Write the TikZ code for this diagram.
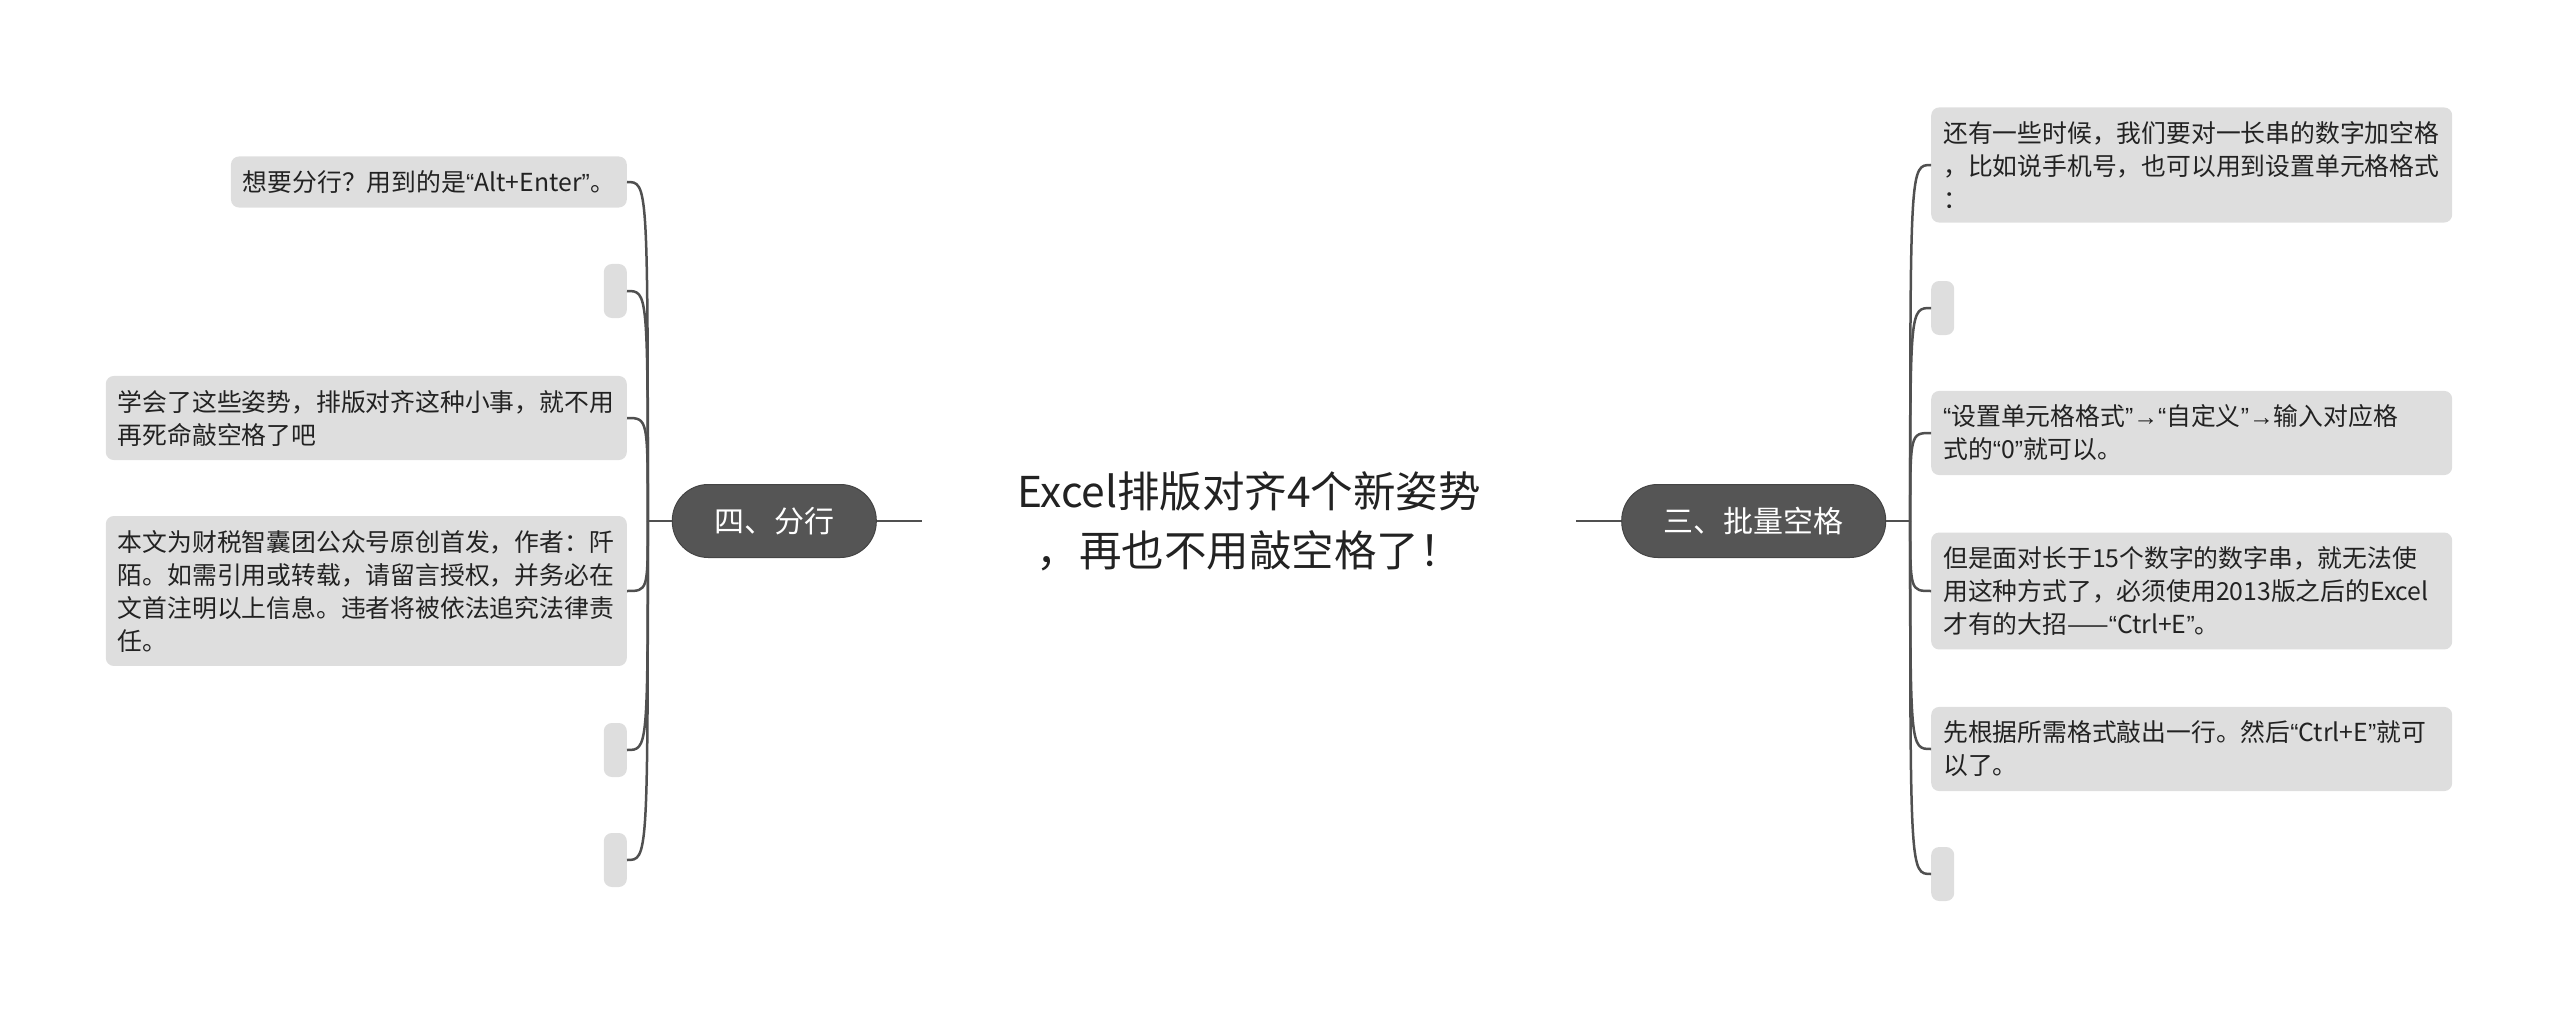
\documentclass[tikz,border=0pt]{standalone}
\usepackage{fontspec}
\newfontfamily\cjk{Noto Sans CJK SC}
\newfontfamily\latin{Liberation Sans}
\newcommand{\qo}{{\latin “}}
\newcommand{\qc}{{\latin ”}}
\newcommand{\ar}{{\latin →}}
\usepackage{tikz}
\usetikzlibrary{positioning}
\definecolor{leafgray}{HTML}{DEDEDE}
\definecolor{branchgray}{HTML}{555555}
\definecolor{linegray}{HTML}{505050}
\definecolor{inkgray}{HTML}{222222}
\tikzstyle{topic} = [align=center, minimum width=654pt, inner sep=0pt, text=inkgray, font=\cjk\fontsize{42.5}{59}\selectfont]
\tikzstyle{branch} = [draw=branchgray!80!black, line width=1pt, fill=branchgray, text=white, rounded corners=36pt, minimum height=73pt, inner xsep=42pt, font=\cjk\fontsize{30}{36}\selectfont]
\tikzstyle{leaf} = [fill=leafgray, rounded corners=8pt, inner xsep=12pt, inner ysep=14pt, align=left, text=inkgray, font=\cjk\fontsize{24.8}{33}\selectfont]
\tikzstyle{stub} = [fill=leafgray, rounded corners=8pt, minimum width=23pt, minimum height=54pt, inner sep=0pt]
\tikzstyle{link} = [draw=linegray, line width=2.5pt]

\begin{document}
\begin{tikzpicture}[x=1pt, y=-1pt, node distance=45pt]
    \useasboundingbox (0,0) rectangle (2560,1011);
    % We start by placing the topic and the two branches
    \node [topic] (topic) at (1249,521) {Excel排版对齐4个新姿势\\，再也不用敲空格了！};
    \node [branch, left=of topic] (fenhang) {四、分行};
    \node [branch, right=of topic] (kongge) {三、批量空格};
    \coordinate [left=24pt of fenhang] (ltrunk);
    \coordinate [right=24pt of kongge] (rtrunk);

    % Left leaves
    \node [leaf, anchor=east] (l1) at (627,182) {想要分行？用到的是\qo Alt+Enter\qc 。};
    \node [stub, anchor=east] (l2) at (627,291) {};
    \node [leaf, anchor=east, text width=497pt] (l3) at (627,418) {学会了这些姿势，排版对齐这种小事，就不用\\再死命敲空格了吧};
    \node [leaf, anchor=east, text width=497pt] (l4) at (627,591) {本文为财税智囊团公众号原创首发，作者：阡\\陌。如需引用或转载，请留言授权，并务必在\\文首注明以上信息。违者将被依法追究法律责\\任。};
    \node [stub, anchor=east] (l5) at (627,750) {};
    \node [stub, anchor=east] (l6) at (627,860) {};

    % Right leaves
    \node [leaf, anchor=west, text width=497pt] (r1) at (1931,165) {还有一些时候，我们要对一长串的数字加空格\\，比如说手机号，也可以用到设置单元格格式\\：};
    \node [stub, anchor=west] (r2) at (1931,308) {};
    \node [leaf, anchor=west, text width=497pt] (r3) at (1931,433) {\qo 设置单元格格式\qc\ar\qo 自定义\qc\ar 输入对应格\\式的\qo 0\qc 就可以。};
    \node [leaf, anchor=west, text width=497pt] (r4) at (1931,591) {但是面对长于15个数字的数字串，就无法使\\用这种方式了，必须使用2013版之后的Excel\\才有的大招——\qo Ctrl+E\qc 。};
    \node [leaf, anchor=west, text width=497pt] (r5) at (1931,749) {先根据所需格式敲出一行。然后\qo Ctrl+E\qc 就可\\以了。};
    \node [stub, anchor=west] (r6) at (1931,874) {};

    % Once the nodes are placed, connecting them is easy.
    \draw [link] (topic) -- (fenhang);
    \draw [link] (topic) -- (kongge);
    \draw [link] (fenhang) -- (ltrunk);
    \draw [link] (kongge) -- (rtrunk);
    \draw [link] (ltrunk) .. controls (ltrunk |- l1) .. (l1.east);
    \draw [link] (ltrunk) .. controls (ltrunk |- l2) .. (l2.east);
    \draw [link] (ltrunk) .. controls (ltrunk |- l3) .. (l3.east);
    \draw [link] (ltrunk) .. controls (ltrunk |- l4) .. (l4.east);
    \draw [link] (ltrunk) .. controls (ltrunk |- l5) .. (l5.east);
    \draw [link] (ltrunk) .. controls (ltrunk |- l6) .. (l6.east);
    \draw [link] (rtrunk) .. controls (rtrunk |- r1) .. (r1.west);
    \draw [link] (rtrunk) .. controls (rtrunk |- r2) .. (r2.west);
    \draw [link] (rtrunk) .. controls (rtrunk |- r3) .. (r3.west);
    \draw [link] (rtrunk) .. controls (rtrunk |- r4) .. (r4.west);
    \draw [link] (rtrunk) .. controls (rtrunk |- r5) .. (r5.west);
    \draw [link] (rtrunk) .. controls (rtrunk |- r6) .. (r6.west);
\end{tikzpicture}
\end{document}
